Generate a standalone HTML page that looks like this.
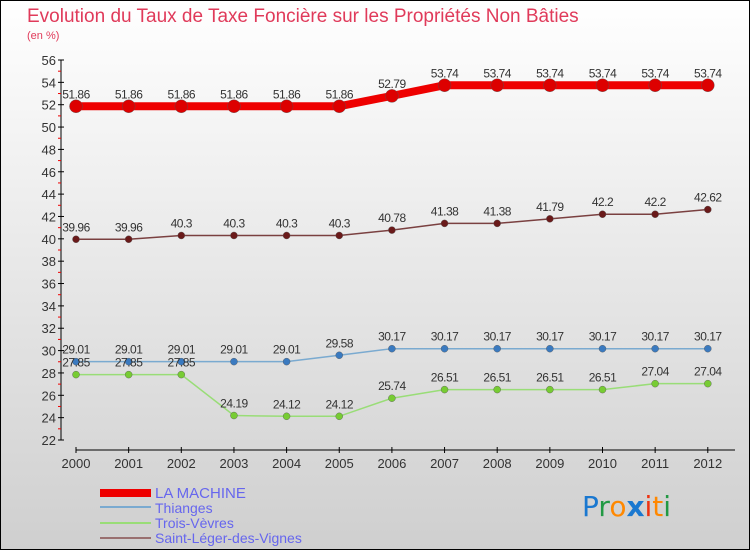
<!DOCTYPE html>
<html><head><meta charset="utf-8"><style>
body{margin:0}
#c{width:750px;height:550px;position:relative;font-family:"Liberation Sans",sans-serif}
</style></head><body>
<div id="c">
<svg id="s" width="750" height="550" xmlns="http://www.w3.org/2000/svg">
<defs><linearGradient id="bg" x1="0" y1="0" x2="0" y2="1"><stop offset="0" stop-color="#ffffff"/><stop offset="1" stop-color="#cfcfcf"/></linearGradient></defs>
<rect x="0.5" y="0.5" width="749" height="549" fill="url(#bg)" stroke="#000"/>
<text x="27" y="22" font-size="19" fill="#e03a5a">Evolution du Taux de Taxe Foncière sur les Propriétés Non Bâties</text>
<text x="27" y="39" font-size="11" fill="#e03a5a">(en %)</text>
<g id="axes"></g><g id="series"></g>
<g>
<rect x="100" y="489" width="51" height="8" fill="#ee0000"/>
<text x="155" y="498" font-size="15" fill="#6666ee">LA MACHINE</text>
<rect x="100" y="506" width="51" height="2" fill="#7aaad0"/>
<text x="155" y="513" font-size="14" fill="#6666ee">Thianges</text>
<rect x="100" y="522" width="51" height="2" fill="#99dd77"/>
<text x="155" y="528" font-size="14" fill="#6666ee">Trois-Vèvres</text>
<rect x="100" y="537" width="51" height="2" fill="#997070"/>
<text x="155" y="543" font-size="14" fill="#6666ee">Saint-Léger-des-Vignes</text>
</g>
<g font-size="28" font-family="'DejaVu Sans',sans-serif">
<text x="582" y="516"><tspan fill="#1a78d0">P</tspan><tspan fill="#229944">r</tspan><tspan fill="#ff8800">o</tspan><tspan fill="#1a78d0" font-weight="bold">x</tspan><tspan fill="#ee3311">i</tspan><tspan fill="#ff8800">t</tspan><tspan fill="#229944">i</tspan></text>
</g>
</svg></div>
<script>
const years=["2000","2001","2002","2003","2004","2005","2006","2007","2008","2009","2010","2011","2012"];
const laMachine=[51.86,51.86,51.86,51.86,51.86,51.86,52.79,53.74,53.74,53.74,53.74,53.74,53.74];
const thianges=[29.01,29.01,29.01,29.01,29.01,29.58,30.17,30.17,30.17,30.17,30.17,30.17,30.17];
const troisVevres=[27.85,27.85,27.85,24.19,24.12,24.12,25.74,26.51,26.51,26.51,26.51,27.04,27.04];
const saintLeger=[39.96,39.96,40.3,40.3,40.3,40.3,40.78,41.38,41.38,41.79,42.2,42.2,42.62];
const yTicks=[22,24,26,28,30,32,34,36,38,40,42,44,46,48,50,52,54,56];
const NS="http://www.w3.org/2000/svg";
const X=i=>76+i*52.65;
const Y=v=>60+(56-v)*(380/34);
function mk(t,a,p){const e=document.createElementNS(NS,t);for(const k in a)e.setAttribute(k,a[k]);p.appendChild(e);return e;}
const ax=document.getElementById('axes');
const ya=mk('line',{x1:61,y1:60,x2:61,y2:440,stroke:'#000'},ax);


yTicks.forEach(v=>{
 mk('line',{x1:58,x2:64,y1:Y(v),y2:Y(v),stroke:'#000'},ax);
 if(v<56){mk('line',{x1:58,x2:61,y1:Y(v+1),y2:Y(v+1),stroke:'#e00'},ax);}
 const t=mk('text',{x:56,y:Y(v)+5,'text-anchor':'end','font-size':13,fill:'#333'},ax);t.textContent=v;
 
 
});
const xa=mk('line',{x1:76,y1:450,x2:735,y2:450,stroke:'#000'},ax);


years.forEach((y,i)=>{
 mk('line',{x1:X(i),x2:X(i),y1:447,y2:453,stroke:'#000'},ax);
 const t=mk('text',{x:X(i),y:468,'text-anchor':'middle','font-size':13,fill:'#333'},ax);t.textContent=y;
 
 
});
const sg=document.getElementById('series');
function draw(vals,name,col,dot,w,r){
 const g=mk('g',{},sg);
 
 
 const p=mk('polyline',{points:vals.map((v,i)=>X(i)+','+Y(v)).join(' '),fill:'none',stroke:col,'stroke-width':w},g);
 
 
 vals.forEach((v,i)=>{
  const c=mk('circle',{cx:X(i),cy:Y(v),r:r,fill:dot,stroke:'#555','stroke-width':0.4},g);
  
  
  const t=mk('text',{x:X(i),y:Y(v)-8,'text-anchor':'middle','font-size':12,fill:'#333','letter-spacing':'-0.5'},g);t.textContent=v;
  
  
 });
}
draw(saintLeger,'saint-leger','#7a4040','#6a1a1a',1.5,3.5);
draw(thianges,'thianges','#7aaad0','#3a7ac0',1.5,3.5);
draw(troisVevres,'trois-vevres','#99dd77','#77cc33',1.5,3.5);
draw(laMachine,'la-machine','#ee0000','#dd0000',8,6.5);
</script>
</body></html>
